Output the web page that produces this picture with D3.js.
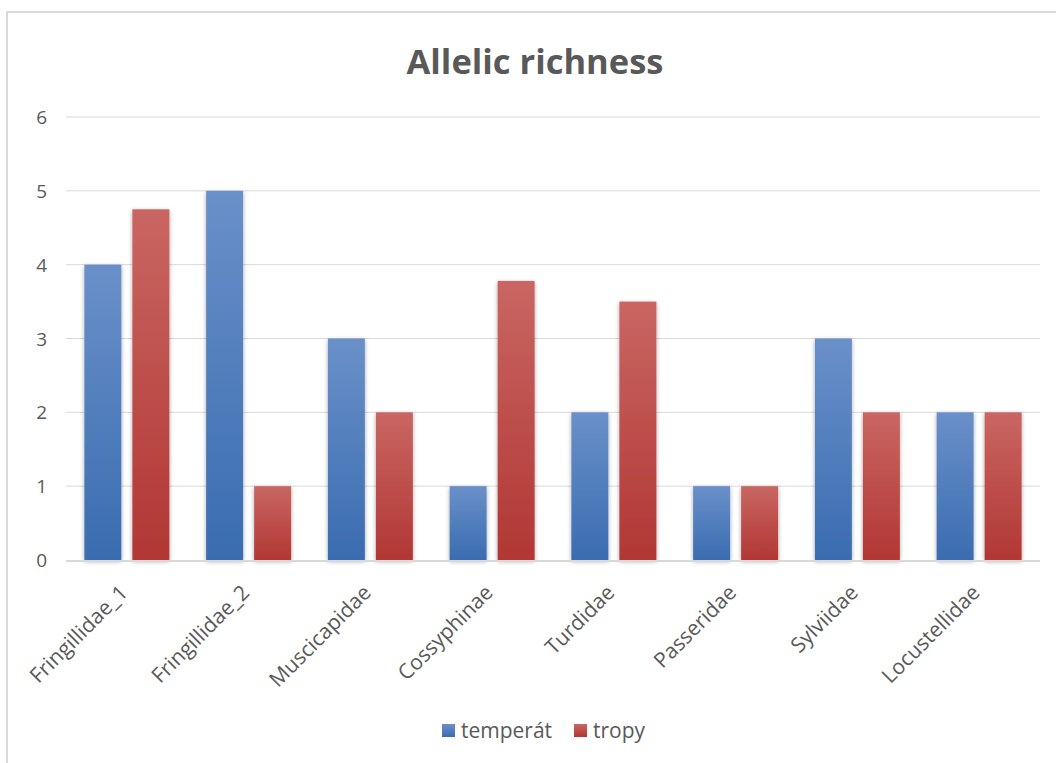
<!DOCTYPE html>
<html>
<head>
<meta charset="utf-8">
<script src="https://cdn.jsdelivr.net/npm/d3@7/dist/d3.min.js"></script>
<style>
  html, body { margin: 0; padding: 0; background: #fff; }
  svg { display: block; }
  text { font-family: "Open Sans", "Noto Sans", sans-serif; fill: #595959; }
</style>
</head>
<body>
<svg id="chart" width="1056" height="763"></svg>
<script>
// Allelic richness per bird family, temperate vs tropical
const categories = ["Fringillidae_1", "Fringillidae_2", "Muscicapidae", "Cossyphinae",
                    "Turdidae", "Passeridae", "Sylviidae", "Locustellidae"];
const seriesNames = ["temperát", "tropy"];
const temperat = [4, 5, 3, 1, 2, 1, 3, 2];
const tropy = [4.75, 1, 2, 3.78, 3.5, 1, 2, 2];
const yTicks = [0, 1, 2, 3, 4, 5, 6];

const W = 1056, H = 763;
const plotLeft = 66, plotRight = 1040, plotTop = 117, plotBottom = 560;
const svg = d3.select("#chart");

// gradients and soft shadow
const defs = svg.append("defs");
const grads = [
  { id: "gBlue", top: "#6a90c9", bottom: "#3a6cb0" },
  { id: "gRed", top: "#c96663", bottom: "#b13734" }
];
grads.forEach(g => {
  const lg = defs.append("linearGradient").attr("id", g.id)
    .attr("x1", 0).attr("y1", 0).attr("x2", 0).attr("y2", 1);
  lg.append("stop").attr("offset", "0%").attr("stop-color", g.top);
  lg.append("stop").attr("offset", "100%").attr("stop-color", g.bottom);
});
const f = defs.append("filter").attr("id", "shadow")
  .attr("x", "-30%").attr("y", "-10%").attr("width", "160%").attr("height", "125%");
f.append("feDropShadow").attr("dx", 0).attr("dy", 1.5).attr("stdDeviation", 2)
  .attr("flood-color", "#000").attr("flood-opacity", 0.35);

// chart frame
svg.append("rect").attr("x", 7).attr("y", 12).attr("width", W + 10).attr("height", H + 10)
  .attr("fill", "#fff").attr("stroke", "#d9d9d9").attr("stroke-width", 2);

const x0 = d3.scaleBand().domain(categories)
  .range([plotLeft, plotRight]).paddingInner(0.302).paddingOuter(0.151);
const x1 = d3.scaleBand().domain(seriesNames)
  .range([0, x0.bandwidth()]).paddingInner(0.23);
const y = d3.scaleLinear().domain([0, 6]).range([plotBottom, plotTop]);

// gridlines
svg.append("g").selectAll("line").data(yTicks.filter(d => d > 0)).join("line")
  .attr("x1", plotLeft).attr("x2", plotRight)
  .attr("y1", d => y(d)).attr("y2", d => y(d))
  .attr("stroke", "#d9d9d9").attr("stroke-width", 1);

// y axis labels
const yAxis = d3.axisLeft(y).tickValues(yTicks).tickSize(0).tickPadding(0).tickFormat(d3.format("d"));
const gy = svg.append("g").attr("transform", "translate(47,0)").call(yAxis);
gy.select(".domain").remove();
gy.selectAll("text").attr("font-size", 19).attr("fill", "#595959")
  .attr("font-family", "\"Open Sans\", sans-serif").attr("dy", "0.35em");

// bars
const data = categories.map((c, i) => ({ cat: c, vals: [temperat[i], tropy[i]] }));
const groups = svg.append("g").selectAll("g").data(data).join("g")
  .attr("transform", d => `translate(${x0(d.cat)},0)`);
groups.selectAll("rect").data(d => d.vals.map((v, j) => ({ v, s: seriesNames[j], j })))
  .join("rect")
  .attr("x", d => x1(d.s))
  .attr("width", x1.bandwidth())
  .attr("y", d => y(d.v))
  .attr("height", d => y(0) - y(d.v))
  .attr("fill", d => d.j === 0 ? "url(#gBlue)" : "url(#gRed)")
  .attr("filter", "url(#shadow)");

// baseline axis
svg.append("line").attr("x1", plotLeft).attr("x2", plotRight)
  .attr("y1", y(0) + 1).attr("y2", y(0) + 1)
  .attr("stroke", "#d9d9d9").attr("stroke-width", 2);

// x axis labels, rotated and end-anchored under each group
const xAxis = d3.axisBottom(x0).tickSize(0).tickPadding(0);
const gx = svg.append("g").attr("transform", `translate(0,${y(0)})`).call(xAxis);
gx.select(".domain").remove();
gx.selectAll(".tick").attr("transform", d => `translate(${x0(d) + x0.bandwidth() / 2 + 2},34)`);
gx.selectAll("text")
  .attr("font-size", 21).attr("fill", "#595959")
  .attr("font-family", "\"Open Sans\", sans-serif")
  .attr("text-anchor", "end")
  .attr("x", 0).attr("y", 0).attr("dy", 0)
  .attr("transform", "rotate(-45)");

// title
svg.append("text").attr("x", 535).attr("y", 74).attr("text-anchor", "middle")
  .attr("font-size", 34.5).attr("font-weight", "bold").text("Allelic richness");

// legend
const legend = svg.append("g").attr("transform", "translate(442,724)");
const legItems = [
  { name: seriesNames[0], fill: "url(#gBlue)", dx: 0 },
  { name: seriesNames[1], fill: "url(#gRed)", dx: 132 }
];
const li = legend.selectAll("g").data(legItems).join("g")
  .attr("transform", d => `translate(${d.dx},0)`);
li.append("rect").attr("width", 13).attr("height", 13).attr("fill", d => d.fill);
li.append("text").attr("x", 19).attr("y", 14).attr("font-size", 21).text(d => d.name);
</script>
</body>
</html>
